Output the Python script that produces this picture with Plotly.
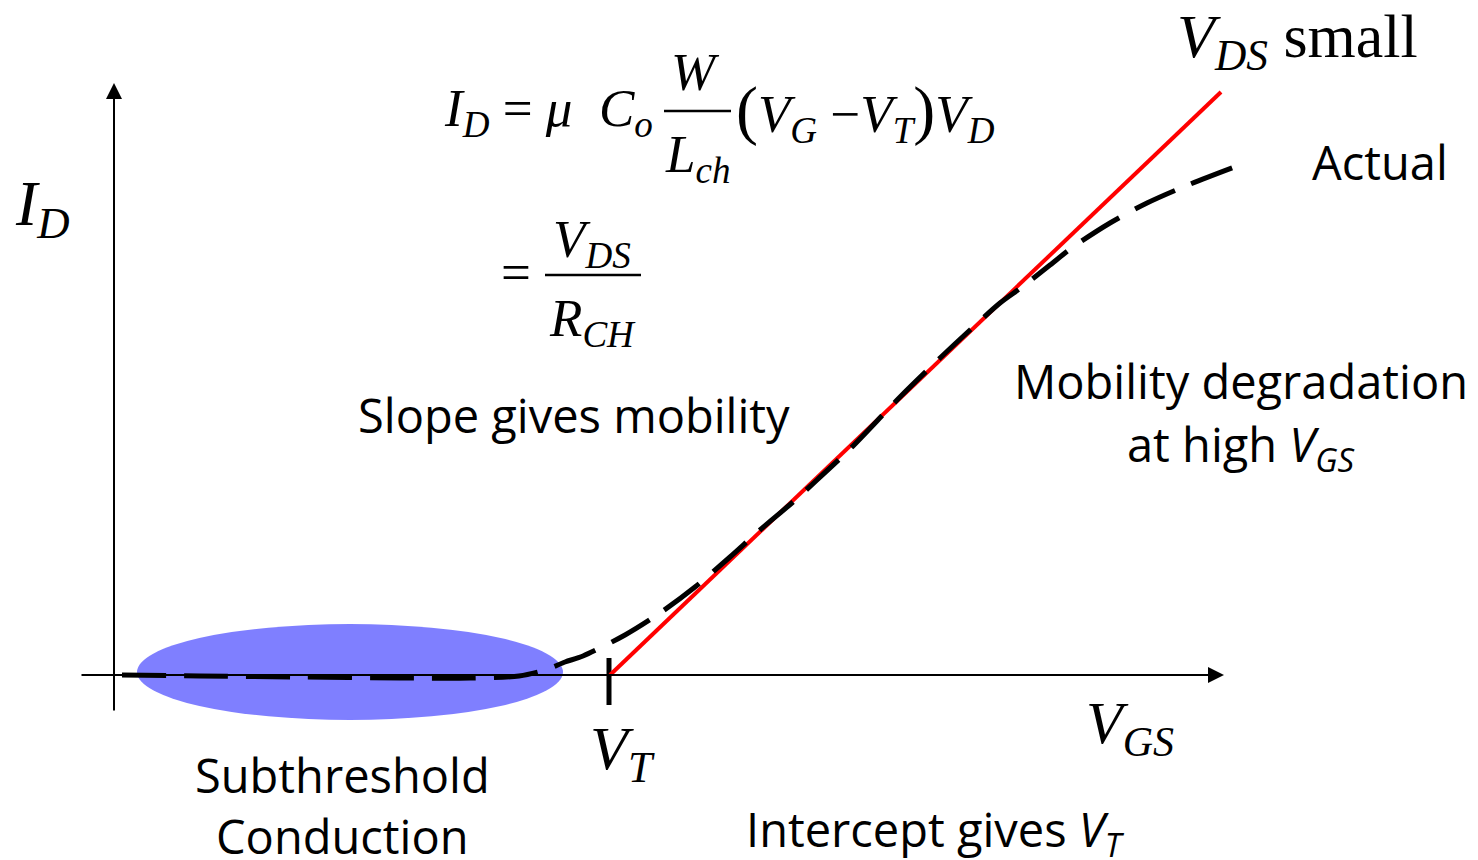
import plotly.graph_objects as go

# MOSFET transfer characteristic at small V_DS (arbitrary units: V_GS in V, I_D in mA)
vgs_actual = [0.08, 0.86, 1.86, 2.86, 3.56, 4.05, 4.31, 4.51, 4.69, 5.11, 5.46, 5.81,
              6.16, 6.46, 6.79, 7.03, 7.36, 7.86, 8.26, 8.56, 8.86, 9.08, 9.36, 9.59,
              9.96, 10.33, 10.74, 11.31]
id_actual = [0.00, -0.01, -0.02, -0.03, -0.03, -0.01, 0.05, 0.13, 0.19, 0.40, 0.62, 0.88,
             1.18, 1.45, 1.73, 1.95, 2.26, 2.78, 3.17, 3.45, 3.72, 3.88, 4.10, 4.28,
             4.52, 4.72, 4.90, 5.12]

vgs_ideal = [4.96, 11.07]
id_ideal = [0.00, 5.83]

v_threshold = 4.95
subthreshold_vgs = [0.23, 4.49]
subthreshold_id = [-0.45, 0.51]

W, H = 1478, 860
SCALE = 100.0          # pixels per unit on both axes
X0, Y0 = 114, 675      # origin position in the page


def px(x):
    return (x - X0) / SCALE


def py(y):
    return (Y0 - y) / SCALE


SERIF = "Liberation Serif"
SANS = "Open Sans"
LABEL = 47

fig = go.Figure()

# linear (ideal) characteristic
fig.add_trace(go.Scatter(x=vgs_ideal, y=id_ideal, mode="lines",
                         line=dict(color="#ff0000", width=4), hoverinfo="skip"))
# measured characteristic
fig.add_trace(go.Scatter(x=vgs_actual, y=id_actual, mode="lines",
                         line=dict(color="black", width=5, dash="44px,18px", shape="spline",
                                   smoothing=0.8),
                         hoverinfo="skip"))

shapes = [
    # subthreshold region highlight
    dict(type="circle", xref="x", yref="y",
         x0=subthreshold_vgs[0], x1=subthreshold_vgs[1],
         y0=subthreshold_id[0], y1=subthreshold_id[1],
         fillcolor="rgba(0,0,255,0.5)", line=dict(width=0), layer="below"),
    # threshold tick
    dict(type="line", xref="x", yref="y", x0=v_threshold, x1=v_threshold,
         y0=py(658), y1=py(705), line=dict(color="black", width=5), layer="below"),
    # fraction bars of the equations
    dict(type="line", xref="x", yref="y", x0=px(664), x1=px(731), y0=py(111), y1=py(111),
         line=dict(color="black", width=2.5)),
    dict(type="line", xref="x", yref="y", x0=px(545), x1=px(641), y0=py(275), y1=py(275),
         line=dict(color="black", width=2.5)),
]

ann = []


def text(x, y, s, size, family=SANS, xanchor="center", yanchor="middle"):
    ann.append(dict(x=px(x), y=py(y), xref="x", yref="y", text=s, showarrow=False,
                    xanchor=xanchor, yanchor=yanchor,
                    font=dict(family=family, size=size, color="black")))


def arrow(x_from, y_from, x_to, y_to):
    ann.append(dict(x=x_to, y=y_to, ax=x_from, ay=y_from, xref="x", yref="y",
                    axref="x", ayref="y", text="", showarrow=True, arrowhead=2,
                    arrowsize=1.6, arrowwidth=2, arrowcolor="black", standoff=0,
                    startstandoff=0))


# axes with arrowheads
arrow(px(80), 0, px(1224), 0)
arrow(0, py(712), 0, py(83))

# axis labels
text(42, 208, "<i>I</i><sub><i>D</i></sub>", 64, SERIF)
text(1130, 727, "<i>V</i><sub><i>GS</i></sub>", 60, SERIF)
text(622, 752, "<i>V</i><sub><i>T</i></sub>", 62, SERIF)

# curve labels
text(1297, 40, "<i>V</i><sub><i>DS</i></sub> small", 62, SERIF)
text(1380, 162, "Actual", LABEL)

# equations
text(655, 112, "<i>I</i><sub><i>D</i></sub> = <i>μ</i>\u2002<i>C</i><sub><i>o</i></sub>", 53,
     SERIF, xanchor="right")
text(695, 72, "<i>W</i>", 53, SERIF)
text(697, 158, "<i>L</i><sub><i>ch</i></sub>", 53, SERIF)
text(734, 112,
     "<span style=\"font-size:66px\">(</span><i>V</i><sub><i>G</i></sub> \u2212<i>V</i><sub><i>T</i></sub>"
     "<span style=\"font-size:66px\">)</span><i>V</i><sub><i>D</i></sub>",
     53, SERIF, xanchor="left")
text(516, 272, "=", 53, SERIF)
text(592, 243, "<i>V</i><sub><i>DS</i></sub>", 53, SERIF)
text(592, 322, "<i>R</i><sub><i>CH</i></sub>", 53, SERIF)

# annotations
text(574, 415, "Slope gives mobility", LABEL)
text(1241, 381, "Mobility degradation", LABEL)
text(1241, 447, "at high <i>V</i><sub><i>GS</i></sub>", LABEL)
text(342, 775, "Subthreshold", LABEL)
text(342, 836, "Conduction", LABEL)
text(935, 832, "Intercept gives <i>V</i><sub><i>T</i></sub>", LABEL)

fig.update_layout(
    width=W, height=H, autosize=False,
    margin=dict(l=0, r=0, t=0, b=0, pad=0),
    paper_bgcolor="white", plot_bgcolor="white",
    showlegend=False,
    xaxis=dict(range=[px(0), px(W)], visible=False, fixedrange=True),
    yaxis=dict(range=[py(H), py(0)], visible=False, fixedrange=True),
    shapes=shapes, annotations=ann,
)

fig.write_html("out.html", config=dict(displayModeBar=False))
